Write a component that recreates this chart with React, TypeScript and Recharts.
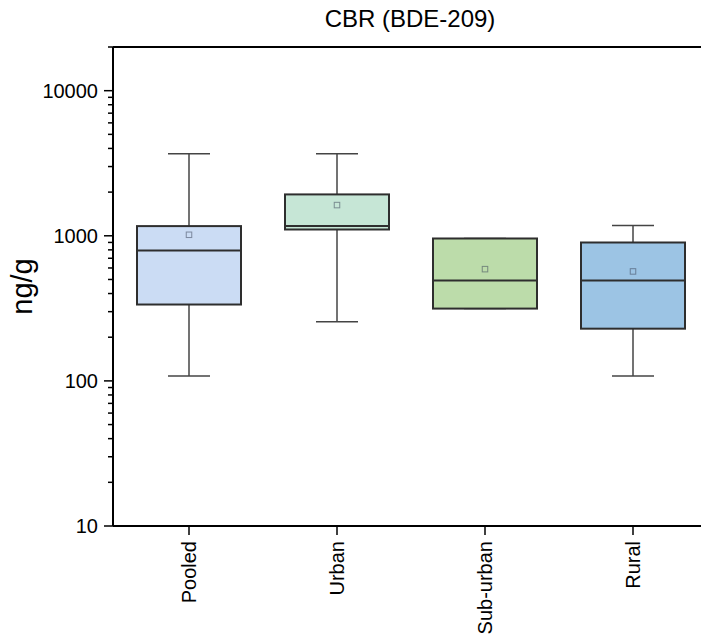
import React from 'react';
import {
  Bar,
  ComposedChart,
  ReferenceLine,
  Scatter,
  XAxis,
  YAxis,
} from 'recharts';

const categories = ['Pooled', 'Urban', 'Sub-urban', 'Rural'];
const mins = [108, 256, 315, 108];
const q1s = [336, 1105, 315, 229];
const medians = [792, 1166, 492, 492];
const q3s = [1166, 1928, 958, 899];
const maxs = [3680, 3680, 958, 1178];
const means = [1016, 1628, 589, 568];
const fills = ['#cbdcf4', '#c6e6d6', '#bcdcaa', '#9cc4e4'];

// labelled decades and the unlabelled minor ticks between them
const majorTicks = [10, 100, 1000, 10000];
const yTicks = [
  10, 20, 30, 40, 50, 60, 70, 80, 90,
  100, 200, 300, 400, 500, 600, 700, 800, 900,
  1000, 2000, 3000, 4000, 5000, 6000, 7000, 8000, 9000,
  10000, 20000,
];

const data = categories.map((name, i) => ({
  name,
  whisker: [mins[i], maxs[i]],
  box: [q1s[i], q3s[i]],
  median: medians[i],
  mean: means[i],
}));

const FONT = '"Liberation Sans", Arial, sans-serif';
const BOX_W = 104;
const CAP_W = 42;

const WhiskerShape = (props: any) => {
  const { x, y, width, height } = props;
  const cx = x + width / 2;
  return (
    <g stroke="#444" strokeWidth={1.5}>
      <line x1={cx} x2={cx} y1={y} y2={y + height} />
      <line x1={cx - CAP_W / 2} x2={cx + CAP_W / 2} y1={y} y2={y} />
      <line x1={cx - CAP_W / 2} x2={cx + CAP_W / 2} y1={y + height} y2={y + height} />
    </g>
  );
};

const BoxShape = (props: any) => {
  const { x, y, width, height, index } = props;
  return (
    <rect
      x={x}
      y={y}
      width={width}
      height={height}
      fill={fills[index]}
      stroke="#2e2e2e"
      strokeWidth={2}
    />
  );
};

const MedianShape = (props: any) => {
  const { cx, cy } = props;
  return (
    <line
      x1={cx - BOX_W / 2}
      x2={cx + BOX_W / 2}
      y1={cy}
      y2={cy}
      stroke="#2e2e2e"
      strokeWidth={2}
    />
  );
};

const MeanShape = (props: any) => {
  const { cx, cy } = props;
  return (
    <rect
      x={cx - 2.75}
      y={cy - 2.75}
      width={5.5}
      height={5.5}
      fill="none"
      stroke="rgba(60,70,90,0.55)"
      strokeWidth={1}
    />
  );
};

const renderYTick = (props: any) => {
  const { x, y, payload } = props;
  const major = majorTicks.includes(Number(payload.value));
  return (
    <g>
      <line x1={x} x2={x - (major ? 9 : 5)} y1={y} y2={y} stroke="#000" strokeWidth={1.5} />
      {major && (
        <text x={x - 15} y={y} dy="0.36em" textAnchor="end" fontSize={20} fontFamily={FONT} fill="#000">
          {payload.value}
        </text>
      )}
    </g>
  );
};

const renderXTick = (props: any) => {
  const { x, y, payload } = props;
  return (
    <g transform={`translate(${x},${y})`}>
      <line x1={0} x2={0} y1={0} y2={9} stroke="#000" strokeWidth={1.5} />
      <text
        transform="rotate(-90)"
        x={-15}
        y={0}
        dy="0.36em"
        textAnchor="end"
        fontSize={20}
        fontFamily={FONT}
        fill="#000"
      >
        {payload.value}
      </text>
    </g>
  );
};

const renderYLabel = (p: any) => {
  const vb = p.viewBox || { x: 0, y: 47, height: 479 };
  const cy = vb.y + vb.height / 2;
  return (
    <text
      x={32}
      y={cy}
      transform={`rotate(-90, 32, ${cy})`}
      textAnchor="middle"
      fontSize={29}
      fontFamily={FONT}
      fill="#000"
    >
      ng/g
    </text>
  );
};

export default function App() {
  return (
    <div style={{ position: 'fixed', left: 0, top: 0, width: 701, height: 639, overflow: 'hidden', background: '#fff' }}>
      <ComposedChart
        width={720}
        height={639}
        data={data}
        margin={{ top: 47, right: 13, bottom: 0, left: 0 }}
        barSize={BOX_W}
        barGap={-BOX_W}
      >
        <XAxis
          dataKey="name"
          type="category"
          interval={0}
          height={113}
          padding={{ left: 2, right: 0 }}
          tickSize={0}
          tickMargin={0}
          tickLine={false}
          axisLine={{ stroke: '#000', strokeWidth: 2 }}
          tick={renderXTick}
        />
        <YAxis
          scale="log"
          type="number"
          domain={[10, 20000]}
          allowDataOverflow
          ticks={yTicks}
          interval={0}
          width={113}
          tickSize={0}
          tickMargin={0}
          tickLine={false}
          axisLine={{ stroke: '#000', strokeWidth: 2 }}
          tick={renderYTick}
          label={{ content: renderYLabel }}
        />
        <ReferenceLine
          y={20000}
          stroke="#000"
          strokeWidth={2}
          label={{
            value: 'CBR (BDE-209)',
            position: 'top',
            offset: 20,
            fontSize: 24,
            fontFamily: FONT,
            fill: '#000',
          }}
        />
        <Bar dataKey="whisker" shape={<WhiskerShape />} isAnimationActive={false} />
        <Bar dataKey="box" shape={<BoxShape />} isAnimationActive={false} />
        <Scatter dataKey="median" shape={<MedianShape />} isAnimationActive={false} />
        <Scatter dataKey="mean" shape={<MeanShape />} isAnimationActive={false} />
      </ComposedChart>
    </div>
  );
}
